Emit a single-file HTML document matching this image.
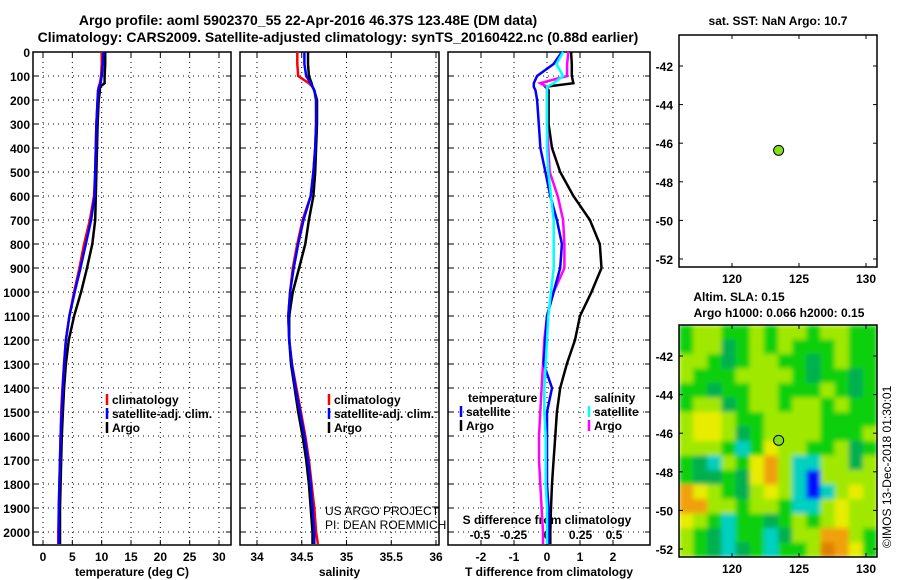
<!DOCTYPE html>
<html><head><meta charset="utf-8"><style>
body{margin:0;background:#fff}
svg{display:block}
text{font-family:"Liberation Sans",sans-serif;font-weight:bold;font-size:12px;fill:#000}
</style></head><body>
<svg id="fig" width="900" height="580" viewBox="0 0 900 580">
<defs>
<filter id="blur" x="0" y="0" width="1" height="1"><feGaussianBlur stdDeviation="2.5"/></filter>
<clipPath id="mapclip"><rect x="679" y="325" width="198" height="232"/></clipPath>
</defs>
<text x="308" y="25" text-anchor="middle" style="font-size:14px">Argo profile: aoml 5902370_55 22-Apr-2016 46.37S 123.48E (DM data)</text>
<text x="338" y="42" text-anchor="middle" style="font-size:14px">Climatology: CARS2009. Satellite-adjusted climatology: synTS_20160422.nc (0.88d earlier)</text>
<g id="g"></g>
</svg>
<script>
// ---- data ----
const depthTicks = [0,100,200,300,400,500,600,700,800,900,1000,1100,1200,1300,1400,1500,1600,1700,1800,1900,2000];
const tempTicks = [0,5,10,15,20,25,30];
const salTicks = [34,34.5,35,35.5,36];
const salTickLabels = ['34','34.5','35','35.5','36'];
const tdiffTicks = [-2,-1,0,1,2];
const sdiffTicks = [-0.5,-0.25,0,0.25,0.5];
const sdiffLabels = ['-0.5','-0.25','0','0.25','0.5'];
const profDepth = [0,50,100,130,145,160,200,300,400,500,600,700,800,900,1000,1100,1200,1300,1400,1500,1600,1700,1800,1900,2000,2050];
const tempClim = [10.0,10.0,9.9,9.7,9.5,9.4,9.3,9.1,9.0,8.9,8.7,8.0,7.0,6.2,5.3,4.5,3.9,3.6,3.3,3.1,3.0,2.9,2.8,2.7,2.6,2.6];
const tempSat  = [10.3,10.2,10.0,9.8,9.6,9.4,9.3,9.1,9.0,8.9,8.8,8.2,7.3,6.4,5.4,4.5,3.9,3.6,3.4,3.2,3.0,2.9,2.8,2.7,2.7,2.7];
const tempArgo = [10.6,10.6,10.5,10.5,9.7,9.7,9.5,9.3,9.2,9.1,9.0,8.9,8.4,7.5,6.5,5.3,4.4,3.9,3.6,3.4,3.2,3.1,3.0,2.9,2.9,2.9];
const salClim = [34.45,34.45,34.46,34.58,34.62,34.64,34.66,34.66,34.65,34.63,34.60,34.51,34.45,34.40,34.37,34.35,34.36,34.39,34.44,34.49,34.54,34.58,34.61,34.64,34.66,34.68];
const salSat  = [34.53,34.53,34.55,34.60,34.62,34.64,34.66,34.66,34.65,34.63,34.60,34.52,34.46,34.41,34.37,34.35,34.36,34.39,34.43,34.48,34.53,34.57,34.60,34.62,34.64,34.64];
const salArgo = [34.57,34.57,34.58,34.61,34.62,34.64,34.67,34.67,34.66,34.65,34.63,34.58,34.54,34.47,34.40,34.36,34.36,34.38,34.42,34.46,34.51,34.55,34.58,34.60,34.62,34.62];
const tdSat  = [0.45,0.2,-0.3,-0.4,-0.4,-0.35,-0.3,-0.25,-0.2,-0.05,0.1,0.3,0.45,0.4,0.2,0.0,-0.05,-0.1,0.15,0.0,0.0,0.0,0.0,0.05,0.05,0.05];
const tdArgo = [0.73,0.75,0.75,0.8,-0.05,0.05,0.05,0.05,0.15,0.4,0.8,1.3,1.6,1.65,1.35,1.0,0.85,0.6,0.4,0.3,0.25,0.2,0.15,0.12,0.1,0.1];
const sdSat  = [0.12,0.07,0.12,0.05,0.0,0.0,0.0,0.0,0.0,0.01,0.03,0.05,0.05,0.05,0.03,0.01,0.0,-0.01,-0.02,-0.02,-0.01,-0.01,-0.01,0.0,0.0,0.0];
const sdArgo = [0.16,0.15,0.15,-0.05,0.0,0.0,0.0,0.0,0.01,0.02,0.08,0.12,0.13,0.13,0.05,0.0,-0.02,-0.03,-0.04,-0.05,-0.06,-0.06,-0.05,-0.04,-0.03,-0.03];
const lonTicks = [120,125,130];
const latTicks = [-42,-44,-46,-48,-50,-52];
const argoLon = 123.48, argoLat = -46.37;
const slaRows = [
"0 1 1 0 0 1 0 1 1 0 1 1 0 0",
"0 1 1 -1 0 1 0 1 0 0 0 1 0 0",
"1 1 0 -1 0 1 1 0 0 -1 0 1 0 0",
"1 0 0 0 1 1 1 1 0 -1 0 0 -1 0",
"0 0 -1 0 0 1 1 0 0 0 1 0 -1 0",
"0 1 1 -1 0 1 1 0 1 1 0 1 0 0",
"1 2 2 1 0 0 1 1 1 1 0 0 0 0",
"1 2 2 1 -1 0 1 1 1 1 0 0 0 1",
"1 1 1 0 -2 0 2 1 1 0 0 1 -1 0",
"0 -1 -2 1 0 2 3 1 -2 -2 1 1 -1 1",
"0 -1 -1 0 -1 2 3 1 -2 -3 1 1 1 1",
"3 2 1 0 -1 1 2 1 -2 -3 -2 1 2 1",
"3 3 1 1 0 1 1 0 -2 -2 1 2 1 1",
"2 1 0 -2 0 0 -1 0 1 0 1 2 1 1",
"1 0 -1 -2 0 0 -2 -1 1 1 3 3 1 0",
"1 0 -1 -2 -1 0 -2 0 0 1 4 3 2 0"];

// ---- helpers ----
const NS='http://www.w3.org/2000/svg';
const G=document.getElementById('g');
function mk(tag,at,parent){const e=document.createElementNS(NS,tag);for(const k in at)e.setAttribute(k,at[k]);(parent||G).appendChild(e);return e;}
function lin(d0,d1,r0,r1){return v=>r0+(v-d0)*(r1-r0)/(d1-d0);}
const yD = lin(0,2000,52,532);
const PT=52,PB=545;
const xT = lin(0,30,43,219);
const xS = lin(34,36,257,436);
const xTd = lin(0,2,547,613);
const xSd = lin(0,0.5,547,614);

function panel(name,x0,x1,xticks,xs,labels,xlabel){
  const fr=mk('rect',{x:x0,y:PT,width:x1-x0,height:PB-PT,fill:'none',stroke:'#000','stroke-width':1.5});
  
  
  depthTicks.forEach(d=>{
    const y=yD(d);
    const l=mk('line',{x1:x0,x2:x1,y1:y,y2:y,stroke:'#000','stroke-dasharray':'1 4','stroke-width':1});
    
    
    mk('line',{x1:x0,x2:x0+5,y1:y,y2:y,stroke:'#000'});
    mk('line',{x1:x1-5,x2:x1,y1:y,y2:y,stroke:'#000'});
  });
  xticks.forEach((v,i)=>{
    const x=xs(v);
    const l=mk('line',{x1:x,x2:x,y1:PT,y2:PB,stroke:'#000','stroke-dasharray':'1 4'});
    
    
    mk('line',{x1:x,x2:x,y1:PB-5,y2:PB,stroke:'#000'});
    mk('line',{x1:x,x2:x,y1:PT,y2:PT+5,stroke:'#000'});
    if(labels){
      const t=mk('text',{x:x,y:PB+16,'text-anchor':'middle'});t.textContent=labels[i];
      
      
    }
  });
  const t=mk('text',{x:(x0+x1)/2,y:576,'text-anchor':'middle'});t.textContent=xlabel;
  
  
}
function curve(name,vals,xs,color,w){
  let d='';vals.forEach((v,i)=>{d+=(i?'L':'M')+xs(v).toFixed(1)+' '+yD(profDepth[i]).toFixed(1);});
  const p=mk('path',{d:d,fill:'none',stroke:color,'stroke-width':w||2.5});
  
  
}
function legend(name,x,y,items){
  items.forEach((it,i)=>{
    const yy=y+i*14;
    mk('line',{x1:x,x2:x,y1:yy-10,y2:yy+1,stroke:it[1],'stroke-width':2.5});
    const t=mk('text',{x:x+5,y:yy});t.textContent=it[0];
    
    
  });
}

// panel 1
panel('temperature-panel',33,231,tempTicks,xT,tempTicks.map(String),'temperature (deg C)');
depthTicks.forEach(d=>{const t=mk('text',{x:30,y:yD(d)+5,'text-anchor':'end'});t.textContent=d;
  
  });
curve('temp-argo-line',tempArgo,xT,'#000');
curve('temp-clim-line',tempClim,xT,'#f00');
curve('temp-sat-line',tempSat,xT,'#00f');
legend('temp-legend',107,404,[['climatology','#f00'],['satellite-adj. clim.','#00f'],['Argo','#000']]);

// panel 2
panel('salinity-panel',240,439,salTicks,xS,salTickLabels,'salinity');
curve('sal-clim-line',salClim,xS,'#f00');
curve('sal-argo-line',salArgo,xS,'#000');
curve('sal-sat-line',salSat,xS,'#00f');
legend('sal-legend',329,404,[['climatology','#f00'],['satellite-adj. clim.','#00f'],['Argo','#000']]);
[['US ARGO PROJECT',515],['PI: DEAN ROEMMICH',529]].forEach(a=>{const t=mk('text',{x:325,y:a[1],style:'font-weight:normal'});t.textContent=a[0];
  
  });

// panel 3
panel('difference-panel',448,650,tdiffTicks,xTd,tdiffTicks.map(String),'T difference from climatology');
sdiffTicks.forEach((v,i)=>{const t=mk('text',{x:xSd(v),y:539,'text-anchor':'middle'});t.textContent=sdiffLabels[i];
  
  });
(()=>{const t=mk('text',{x:547,y:524,'text-anchor':'middle'});t.textContent='S difference from climatology';
  
  })();
curve('tdiff-argo-line',tdArgo,xTd,'#000');
curve('sdiff-argo-line',sdArgo,xSd,'#f0f');
curve('tdiff-sat-line',tdSat,xTd,'#00f');
curve('sdiff-sat-line',sdSat,xSd,'#0ff');
(()=>{const t=mk('text',{x:468,y:402});t.textContent='temperature';
  })();
legend('tdiff-legend',461,416,[['satellite','#00f'],['Argo','#000']]);
(()=>{const t=mk('text',{x:594,y:402});t.textContent='salinity';
  })();
legend('sdiff-legend',589,416,[['satellite','#0ff'],['Argo','#f0f']]);

// maps
const xLon = lin(120,130,732,866);
function map(name,top,bottom,y42,y52,title){
  const yLat=lin(-42,-52,y42,y52);
  title.forEach((s,i)=>{const t=mk('text',{x:s[1],y:s[2],'text-anchor':'middle'});t.textContent=s[0];
    
    });
  return yLat;
}
const yLat1 = map('sst-map',35,267,66,259,[['sat. SST: NaN Argo: 10.7',778,25]]);
const yLat2 = map('sla-map',325,557,356,549,[['Altim. SLA: 0.15',739,301],['Argo h1000: 0.066 h2000: 0.15',779,317]]);

// SLA heatmap
const pal={'-3':'#0010ff','-2':'#00d0c0','-1':'#00b050','0':'#10d010','1':'#a0e800','2':'#e8ec00','3':'#f0a010','4':'#e08000'};
const hm=mk('g',{'clip-path':'url(#mapclip)'});


const hb=mk('g',{filter:'url(#blur)'},hm);
mk('rect',{x:679,y:325,width:198,height:232,fill:'#10d010'},hb);
const nr=slaRows.length, nc=slaRows[0].split(' ').length, cw=198/nc, ch=232/nr;
slaRows.forEach((row,r)=>row.split(' ').forEach((v,c)=>{
  const e=mk('rect',{x:679+c*cw,y:325+r*ch,width:cw+0.5,height:ch+0.5,fill:pal[v]},hb);
  
  
}));

function mapAxes(name,top,bottom,yLat){
  const fr=mk('rect',{x:679,y:top,width:198,height:bottom-top,fill:'none',stroke:'#000','stroke-width':1.5});
  
  
  lonTicks.forEach(v=>{const x=xLon(v);
    mk('line',{x1:x,x2:x,y1:bottom-4,y2:bottom,stroke:'#000'});
    mk('line',{x1:x,x2:x,y1:top,y2:top+4,stroke:'#000'});
    const t=mk('text',{x:x,y:bottom+16,'text-anchor':'middle'});t.textContent=v;
    
    });
  latTicks.forEach(v=>{const y=yLat(v);
    mk('line',{x1:679,x2:683,y1:y,y2:y,stroke:'#000'});
    mk('line',{x1:873,x2:877,y1:y,y2:y,stroke:'#000'});
    const t=mk('text',{x:673,y:y+5,'text-anchor':'end'});t.textContent=v;
    
    });
  const c=mk('circle',{cx:xLon(argoLon),cy:yLat(argoLat),r:5,fill:'#80e020',stroke:'#000','stroke-width':1});
  
  
}
mapAxes('sst-map',35,267,yLat1);
mapAxes('sla-map',325,557,yLat2);
(()=>{const t=mk('text',{x:0,y:0,transform:'translate(891,548) rotate(-90)',style:'font-weight:normal;font-size:12px'});
  t.textContent='©IMOS 13-Dec-2018 01:30:01';
  })();
</script>
</body></html>
